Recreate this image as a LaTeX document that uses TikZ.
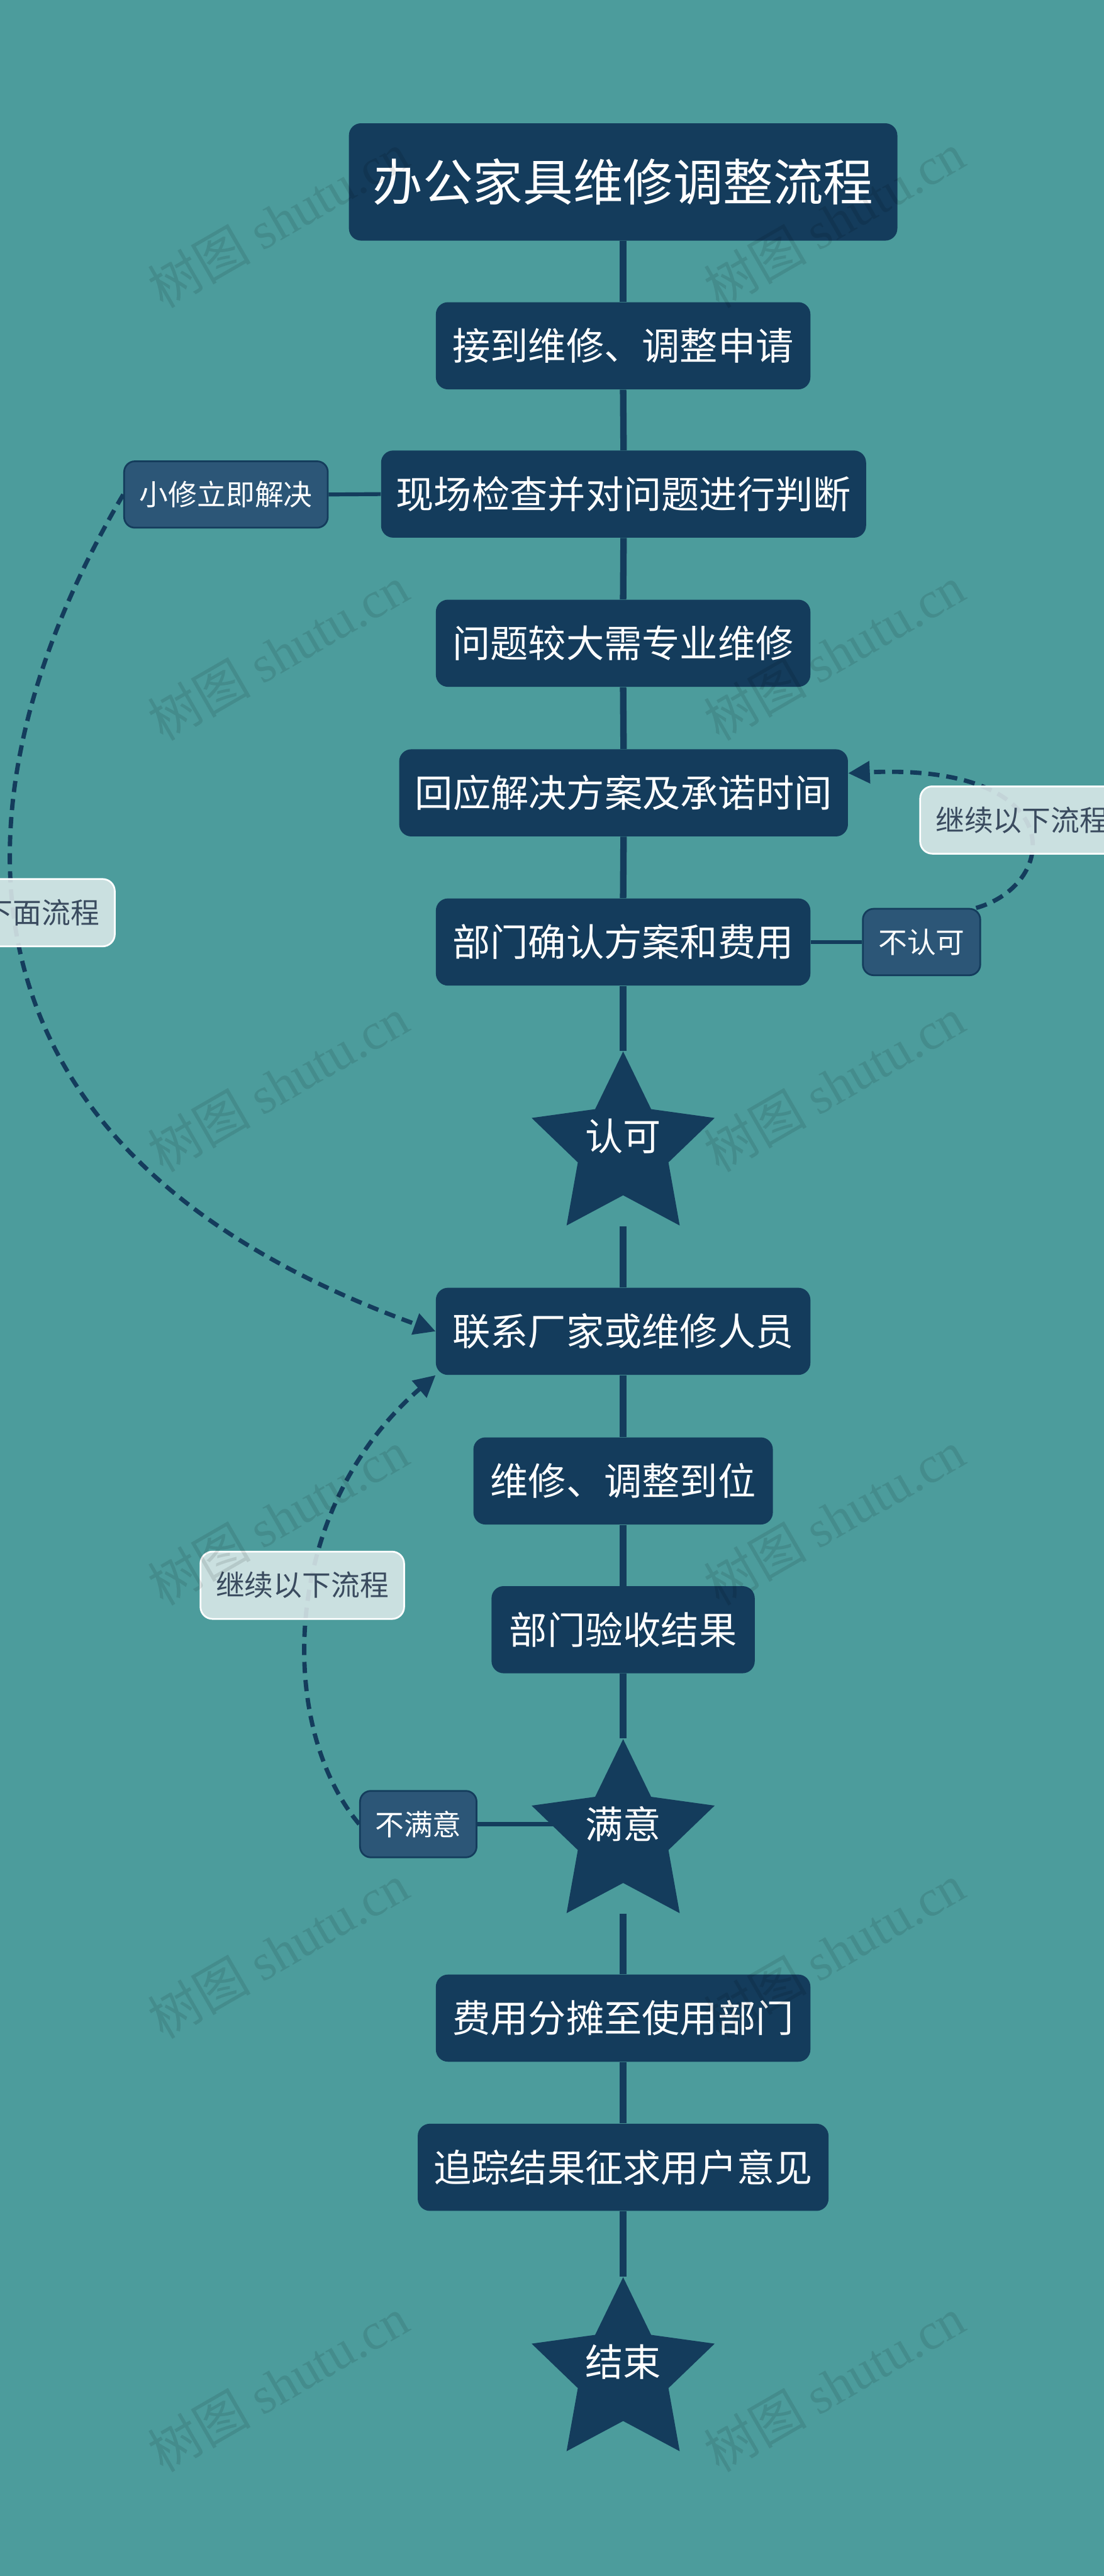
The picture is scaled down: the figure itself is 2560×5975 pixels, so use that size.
\documentclass[tikz,border=0pt]{standalone}
\usepackage{fontspec}
\setmainfont{Noto Sans CJK SC}
\newfontfamily\cjkfont{Noto Sans CJK SC}
\newfontfamily\wmserif{Liberation Serif}
\usetikzlibrary{shapes.geometric,arrows.meta,calc}
\definecolor{bgteal}{HTML}{4C9C9C}
\definecolor{navy}{HTML}{143C5C}
\definecolor{midnavy}{HTML}{2C5677}
\definecolor{lightlab}{HTML}{DCEAEA}
\definecolor{labtext}{HTML}{3A4B5F}
\pgfdeclarelayer{back}
\pgfdeclarelayer{lines}
\pgfsetlayers{back,lines,main}
\tikzset{
  mainbox/.style={rectangle, rounded corners=0.28cm, fill=navy, text=white,
    font=\fontsize{25}{25}\selectfont, minimum height=2.02cm, inner sep=0pt},
  titlebox/.style={rectangle, rounded corners=0.28cm, fill=navy, text=white,
    font=\fontsize{33}{33}\selectfont, inner sep=0pt,
    minimum height=2.72cm, minimum width=12.71cm},
  smallbox/.style={rectangle, rounded corners=0.25cm, fill=midnavy, draw=navy,
    line width=0.04cm, text=white, font=\fontsize{19}{19}\selectfont,
    minimum height=1.54cm, inner sep=0pt},
  notebox/.style={rectangle, rounded corners=0.28cm, fill=lightlab, fill opacity=0.88,
    text opacity=1, draw=white, line width=0.04cm, text=labtext,
    font=\fontsize{19}{19}\selectfont, minimum height=1.56cm, minimum width=4.72cm, inner sep=0pt},
  starnode/.style={star, star points=5, star point ratio=2.02, minimum size=4.46cm,
    inner sep=0pt, fill=navy},
  startext/.style={text=white, font=\fontsize{25}{25}\selectfont, inner sep=0pt},
  flow/.style={draw=navy, line width=0.15cm},
  tie/.style={draw=navy, line width=0.09cm},
  loopback/.style={draw=navy, line width=0.1cm, dash pattern=on 0.26cm off 0.16cm,
    -{Triangle[length=0.5cm,width=0.5cm]}},
  watermark/.style={rotate=30, text=black, text opacity=0.1,
    font=\fontsize{34}{34}\selectfont}
}
\begin{document}
\begin{tikzpicture}[x=0.01cm,y=-0.01cm]
\useasboundingbox (0,0) rectangle (2560,5975);
\clip (0,0) rectangle (2560,5975);
\begin{pgfonlayer}{back}
\fill[bgteal] (0,0) rectangle (2560,5975);
\end{pgfonlayer}

% main column
\node[titlebox] (title) at (1445,422) {办公家具维修调整流程};
\node[mainbox, minimum width=8.68cm] (b1) at (1445,802) {接到维修、调整申请};
\node[mainbox, minimum width=11.24cm] (b2) at (1446,1146) {现场检查并对问题进行判断};
\node[mainbox, minimum width=8.68cm] (b3) at (1445,1492) {问题较大需专业维修};
\node[mainbox, minimum width=10.40cm] (b4) at (1446,1839) {回应解决方案及承诺时间};
\node[mainbox, minimum width=8.68cm] (b5) at (1445,2185) {部门确认方案和费用};
\node[starnode] (s1) at (1445,2662) {};
\node[startext] (s1t) at ($(s1.center)+(0,-26)$) {认可};
\node[mainbox, minimum width=8.68cm] (b6) at (1445,3088) {联系厂家或维修人员};
\node[mainbox, minimum width=6.94cm] (b7) at (1445,3435) {维修、调整到位};
\node[mainbox, minimum width=6.10cm] (b8) at (1445,3780) {部门验收结果};
\node[starnode] (s2) at (1445,4257) {};
\node[startext] (s2t) at ($(s2.center)+(0,-26)$) {满意};
\node[mainbox, minimum width=8.68cm] (b9) at (1445,4681) {费用分摊至使用部门};
\node[mainbox, minimum width=9.52cm] (b10) at (1445,5027) {追踪结果征求用户意见};
\node[starnode] (s3) at (1445,5505) {};
\node[startext] (s3t) at ($(s3.center)+(0,-26)$) {结束};

% side boxes
\node[smallbox, minimum width=4.72cm] (xiao) at (524,1147) {小修立即解决};
\node[smallbox, minimum width=2.72cm] (burenke) at (2137,2185) {不认可};
\node[smallbox, minimum width=2.70cm] (bumanyi) at (970,4231) {不满意};

\begin{pgfonlayer}{lines}
\draw[flow] (title.south) -- (b1.north);
\draw[flow] (b1.south) -- (b2.north);
\draw[flow] (b2.south) -- (b3.north);
\draw[flow] (b3.south) -- (b4.north);
\draw[flow] (b4.south) -- (b5.north);
\draw[flow] (b5.south) -- (s1.north);
\draw[flow] (s1.center |- s1.outer point 3) -- (b6.north);
\draw[flow] (b6.south) -- (b7.north);
\draw[flow] (b7.south) -- (b8.north);
\draw[flow] (b8.south) -- (s2.north);
\draw[flow] (s2.center |- s2.outer point 3) -- (b9.north);
\draw[flow] (b9.south) -- (b10.north);
\draw[flow] (b10.south) -- (s3.north);
\draw[tie] (xiao.east) -- (b2.west);
\draw[tie] (b5.east) -- (burenke.west);
\draw[tie] (bumanyi.east) -- (bumanyi.east -| s2.center);
\draw[loopback] (xiao.west) .. controls (-100,1800) and (-200,2650) .. (b6.west);
\draw[loopback] (bumanyi.west) .. controls (640,4000) and (650,3500) .. (b6.south west);
\draw[loopback] (burenke.32) .. controls (2460,2050) and (2480,1770) .. (b4.5);
\end{pgfonlayer}

% notes on the loops
\node[notebox] (note1) at (2370,1902) {继续以下流程};
\node[notebox] (note2) at (30,2117) {继续下面流程};
\node[notebox] (note3) at (701,3677) {继续以下流程};

% watermarks
\foreach \wy [count=\i] in {510,1515,2515,3520,4525,5530}{
  \node[watermark] (wl\i) at (645,\wy) {{\cjkfont 树图} {\wmserif shutu.cn}};
  \node[watermark] (wr\i) at (1935,\wy) {{\cjkfont 树图} {\wmserif shutu.cn}};
}
\end{tikzpicture}
\end{document}
